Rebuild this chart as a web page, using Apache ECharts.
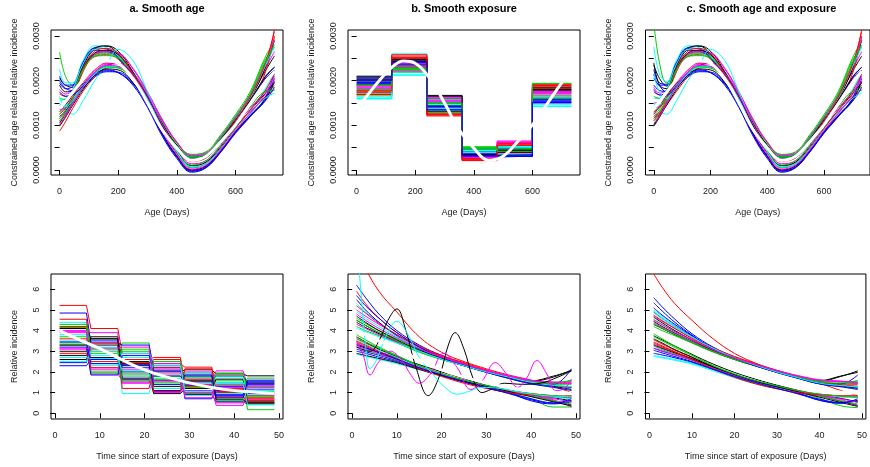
<!DOCTYPE html>
<html>
<head>
<meta charset="utf-8">
<script src="https://cdn.jsdelivr.net/npm/echarts@6/dist/echarts.min.js"></script>
<style>
  html, body { margin: 0; padding: 0; background: #ffffff; }
  #chart { width: 870px; height: 467px; }
</style>
</head>
<body>
<div id="chart"></div>
<script>
// ---------------------------------------------------------------------------
// Data. Age-effect values are stored per 10,000 (multiplied by AGE_UNIT).
// ---------------------------------------------------------------------------
const AGE_UNIT = 1e-4;

// Tick positions
const ageTicks = [0, 200, 400, 600];
const ageIncTicks = [0, 0.0005, 0.001, 0.0015, 0.002, 0.0025, 0.003];
const ageIncLabels = [0, 0.001, 0.002, 0.003];
const dayTicks = [0, 10, 20, 30, 40, 50];
const relIncTicks = [0, 1, 2, 3, 4, 5, 6];

const panelTitles = ['a. Smooth age', 'b. Smooth exposure', 'c. Smooth age and exposure'];

// Age grid (days) for the smooth age curves and the true age effect
const ageX = [0, 20, 45, 80, 120, 160, 200, 250, 300, 350, 400, 450, 500, 550, 600, 650, 700, 733];
const ageTrue = [13.8, 15.3, 17.4, 20.2, 23.0, 24.4, 23.9, 20.5, 15.0, 9.0, 4.9, 2.2, 3.1, 6.4, 10.1, 14.8, 19.5, 22.0];

// a. Smooth age: fitted age curves (per 10,000)
const smoothAgeCurves = [
  [20.5, 19.0, 18.5, 23.3, 27.4, 27.7, 26.0, 21.8, 16.5, 10.5, 5.6, 2.8, 3.3, 7.0, 11.5, 16.2, 22.0, 25.5],
  [11.5, 13.0, 16.0, 22.5, 25.9, 26.5, 25.5, 21.5, 15.8, 9.6, 4.8, 2.4, 3.0, 6.6, 11.0, 16.2, 22.8, 31.5],
  [26.4, 21.0, 19.0, 23.0, 25.9, 26.2, 25.3, 22.0, 17.0, 11.0, 6.0, 3.2, 3.6, 7.3, 11.8, 17.0, 24.5, 27.5],
  [19.5, 18.2, 18.8, 23.8, 26.8, 26.6, 25.0, 20.6, 15.2, 9.4, 4.9, 2.5, 3.0, 6.4, 10.6, 15.3, 20.8, 23.0],
  [22.5, 19.5, 19.5, 24.5, 27.8, 27.4, 25.5, 20.9, 15.5, 9.8, 5.3, 2.8, 3.5, 7.0, 11.3, 16.4, 23.2, 28.0],
  [18.0, 17.0, 18.0, 23.0, 26.1, 26.6, 26.2, 22.8, 17.5, 11.4, 6.3, 3.4, 3.9, 7.6, 12.0, 16.8, 22.5, 26.5],
  [13.0, 14.5, 17.0, 23.3, 27.1, 27.8, 26.6, 22.0, 16.2, 10.0, 5.2, 2.6, 3.2, 6.8, 11.1, 15.8, 22.6, 29.0],
  [10.0, 12.0, 15.5, 22.0, 25.4, 25.8, 24.8, 20.5, 14.8, 8.8, 4.2, 2.0, 2.7, 6.2, 10.4, 15.3, 21.5, 30.0],
  [12.5, 14.0, 16.5, 22.3, 25.4, 25.6, 25.0, 21.8, 16.8, 10.9, 6.1, 3.5, 4.1, 7.9, 12.4, 17.5, 25.0, 29.0],
  [21.0, 19.0, 19.0, 24.1, 27.3, 27.1, 25.2, 20.7, 15.1, 9.2, 4.6, 2.2, 2.8, 6.2, 10.4, 15.0, 20.3, 22.3],
  [15.5, 16.0, 18.0, 23.7, 27.0, 27.2, 25.8, 21.6, 16.0, 10.1, 5.3, 2.7, 3.3, 6.9, 11.2, 16.0, 23.0, 27.5],
  [14.5, 15.0, 17.2, 22.5, 25.8, 26.4, 26.2, 22.6, 17.3, 11.2, 6.2, 3.2, 3.7, 7.3, 11.7, 16.6, 23.8, 29.5],
  [19.0, 17.5, 17.8, 22.7, 26.2, 26.8, 25.8, 21.8, 16.4, 10.4, 5.5, 2.9, 3.4, 6.9, 11.2, 15.6, 20.6, 23.0],
  [17.0, 16.5, 17.5, 22.9, 26.6, 27.2, 26.1, 21.6, 15.6, 9.5, 4.8, 2.4, 3.0, 6.6, 11.0, 16.3, 23.5, 31.0],
  [16.0, 15.8, 17.4, 22.5, 25.6, 26.0, 25.2, 21.2, 15.9, 10.0, 5.4, 2.9, 3.6, 7.4, 11.9, 16.9, 24.0, 28.0],
  [12.0, 13.2, 15.5, 18.3, 20.8, 22.0, 21.9, 19.5, 14.5, 8.2, 3.2, -0.2, 0.6, 4.1, 8.4, 12.2, 15.8, 20.5],
  [16.5, 13.5, 12.5, 15.5, 20.0, 23.5, 27.0, 24.5, 17.5, 10.0, 4.5, 0.8, 1.7, 5.1, 9.5, 13.3, 17.5, 21.0],
  [13.5, 14.0, 15.8, 19.2, 22.3, 23.9, 23.9, 21.4, 16.2, 9.7, 4.4, 1.0, 1.7, 5.0, 9.3, 13.0, 16.2, 18.0],
  [10.5, 12.5, 15.0, 18.5, 21.6, 23.4, 23.8, 21.5, 16.5, 10.0, 4.6, 1.0, 1.8, 5.2, 9.5, 13.3, 17.0, 19.5],
  [8.7, 10.8, 13.8, 17.6, 20.8, 22.8, 23.0, 20.3, 14.6, 8.0, 3.0, 0.0, 1.0, 4.5, 8.8, 12.6, 16.3, 19.0],
  [11.5, 13.5, 16.0, 19.0, 21.8, 23.0, 22.8, 20.3, 15.3, 9.0, 3.9, 0.6, 1.5, 4.9, 9.3, 13.3, 17.5, 18.5],
  [20.0, 18.3, 17.8, 19.3, 21.6, 22.4, 21.8, 19.0, 14.0, 7.6, 2.6, -0.5, 0.5, 4.0, 8.2, 11.9, 16.0, 21.8],
  [14.0, 14.5, 16.0, 19.0, 21.8, 23.3, 23.2, 20.8, 15.8, 9.4, 4.1, 0.7, 1.5, 5.0, 9.4, 13.2, 18.0, 22.0],
  [11.0, 12.5, 15.0, 18.8, 22.0, 23.7, 23.8, 21.6, 16.7, 10.3, 4.9, 1.4, 2.1, 5.5, 9.9, 13.8, 17.4, 20.0],
  [9.8, 11.8, 14.5, 18.0, 21.2, 22.6, 22.4, 19.6, 14.4, 8.1, 3.1, 0.0, 0.9, 4.3, 8.6, 12.1, 15.5, 19.8],
  [12.5, 13.8, 16.2, 19.6, 22.5, 24.0, 23.8, 21.0, 15.6, 9.1, 3.8, 0.5, 1.4, 4.9, 9.3, 13.4, 17.6, 21.5],
  [10.8, 12.8, 15.3, 18.8, 21.8, 23.2, 22.9, 20.4, 15.6, 9.4, 4.3, 1.1, 2.1, 5.7, 10.2, 14.1, 17.5, 17.8],
  [17.5, 16.5, 16.8, 18.8, 21.1, 22.2, 21.8, 19.3, 14.4, 8.0, 2.9, -0.3, 0.7, 4.2, 8.4, 12.0, 15.3, 18.5],
  [14.8, 14.2, 15.5, 18.5, 21.5, 23.0, 23.1, 20.6, 15.7, 9.3, 4.1, 0.6, 1.4, 4.7, 8.9, 12.6, 16.0, 17.2],
  [10.2, 12.0, 14.8, 18.6, 21.9, 23.4, 23.2, 20.4, 15.2, 8.7, 3.5, 0.2, 1.1, 4.5, 8.8, 12.7, 16.8, 21.0]
];

// c. Smooth age and exposure: fitted age curves (per 10,000)
const smoothBothAgeCurves = [
  [23.5, 20.5, 18.8, 23.3, 27.4, 27.7, 26.0, 21.8, 16.5, 10.5, 5.6, 2.8, 3.3, 7.0, 11.5, 16.2, 22.0, 25.5],
  [11.6, 13.0, 16.0, 22.5, 25.9, 26.5, 25.5, 21.5, 15.8, 9.6, 4.8, 2.4, 3.0, 6.6, 11.0, 16.2, 22.8, 31.5],
  [33.0, 24.0, 19.5, 23.0, 25.9, 26.2, 25.3, 22.0, 17.0, 11.0, 6.0, 3.2, 3.6, 7.3, 11.8, 17.0, 24.5, 27.5],
  [21.5, 19.0, 19.0, 23.8, 26.8, 26.6, 25.0, 20.6, 15.2, 9.4, 4.9, 2.5, 3.0, 6.4, 10.6, 15.3, 20.8, 23.0],
  [27.6, 21.5, 19.8, 24.5, 27.8, 27.4, 25.5, 20.9, 15.5, 9.8, 5.3, 2.8, 3.5, 7.0, 11.3, 16.4, 23.2, 28.0],
  [18.5, 17.2, 18.0, 23.0, 26.1, 26.6, 26.2, 22.8, 17.5, 11.4, 6.3, 3.4, 3.9, 7.6, 12.0, 16.8, 22.5, 26.5],
  [12.5, 14.2, 17.0, 23.3, 27.1, 27.8, 26.6, 22.0, 16.2, 10.0, 5.2, 2.6, 3.2, 6.8, 11.1, 15.8, 22.6, 29.0],
  [11.0, 12.5, 15.5, 22.0, 25.4, 25.8, 24.8, 20.5, 14.8, 8.8, 4.2, 2.0, 2.7, 6.2, 10.4, 15.3, 21.5, 30.0],
  [13.0, 14.3, 16.5, 22.3, 25.4, 25.6, 25.0, 21.8, 16.8, 10.9, 6.1, 3.5, 4.1, 7.9, 12.4, 17.5, 25.0, 29.0],
  [22.5, 19.5, 19.2, 24.1, 27.3, 27.1, 25.2, 20.7, 15.1, 9.2, 4.6, 2.2, 2.8, 6.2, 10.4, 15.0, 20.3, 22.3],
  [16.0, 16.2, 18.0, 23.7, 27.0, 27.2, 25.8, 21.6, 16.0, 10.1, 5.3, 2.7, 3.3, 6.9, 11.2, 16.0, 23.0, 27.5],
  [15.0, 15.2, 17.2, 22.5, 25.8, 26.4, 26.2, 22.6, 17.3, 11.2, 6.2, 3.2, 3.7, 7.3, 11.7, 16.6, 23.8, 29.5],
  [24.0, 19.0, 18.2, 22.7, 26.2, 26.8, 25.8, 21.8, 16.4, 10.4, 5.5, 2.9, 3.4, 6.9, 11.2, 15.6, 20.6, 23.0],
  [17.5, 16.8, 17.5, 22.9, 26.6, 27.2, 26.1, 21.6, 15.6, 9.5, 4.8, 2.4, 3.0, 6.6, 11.0, 16.3, 23.5, 31.0],
  [16.5, 16.0, 17.4, 22.5, 25.6, 26.0, 25.2, 21.2, 15.9, 10.0, 5.4, 2.9, 3.6, 7.4, 11.9, 16.9, 24.0, 28.0],
  [20.5, 18.8, 17.5, 18.6, 20.8, 22.0, 21.9, 19.5, 14.5, 8.2, 3.2, -0.2, 0.6, 4.1, 8.4, 12.2, 15.8, 20.5],
  [15.0, 13.2, 12.5, 15.5, 20.0, 23.5, 27.0, 24.5, 17.5, 10.0, 4.5, 0.8, 1.7, 5.1, 9.5, 13.3, 17.5, 21.0],
  [14.0, 14.2, 15.8, 19.2, 22.3, 23.9, 23.9, 21.4, 16.2, 9.7, 4.4, 1.0, 1.7, 5.0, 9.3, 13.0, 16.2, 18.0],
  [10.1, 12.2, 15.0, 18.5, 21.6, 23.4, 23.8, 21.5, 16.5, 10.0, 4.6, 1.0, 1.8, 5.2, 9.5, 13.3, 17.0, 19.5],
  [11.6, 12.5, 14.5, 17.6, 20.8, 22.8, 23.0, 20.3, 14.6, 8.0, 3.0, 0.0, 1.0, 4.5, 8.8, 12.6, 16.3, 19.0],
  [12.0, 13.6, 16.0, 19.0, 21.8, 23.0, 22.8, 20.3, 15.3, 9.0, 3.9, 0.6, 1.5, 4.9, 9.3, 13.3, 17.5, 18.5],
  [19.0, 17.8, 17.6, 19.3, 21.6, 22.4, 21.8, 19.0, 14.0, 7.6, 2.6, -0.5, 0.5, 4.0, 8.2, 11.9, 16.0, 21.8],
  [14.5, 14.6, 16.0, 19.0, 21.8, 23.3, 23.2, 20.8, 15.8, 9.4, 4.1, 0.7, 1.5, 5.0, 9.4, 13.2, 18.0, 22.0],
  [12.0, 13.0, 15.0, 18.8, 22.0, 23.7, 23.8, 21.6, 16.7, 10.3, 4.9, 1.4, 2.1, 5.5, 9.9, 13.8, 17.4, 20.0],
  [9.8, 11.8, 14.5, 18.0, 21.2, 22.6, 22.4, 19.6, 14.4, 8.1, 3.1, 0.0, 0.9, 4.3, 8.6, 12.1, 15.5, 19.8],
  [13.0, 14.0, 16.2, 19.6, 22.5, 24.0, 23.8, 21.0, 15.6, 9.1, 3.8, 0.5, 1.4, 4.9, 9.3, 13.4, 17.6, 21.5],
  [11.0, 12.9, 15.3, 18.8, 21.8, 23.2, 22.9, 20.4, 15.6, 9.4, 4.3, 1.1, 2.1, 5.7, 10.2, 14.1, 17.5, 17.8],
  [18.0, 16.8, 16.8, 18.8, 21.1, 22.2, 21.8, 19.3, 14.4, 8.0, 2.9, -0.3, 0.7, 4.2, 8.4, 12.0, 15.3, 18.5],
  [21.5, 17.5, 16.0, 18.5, 21.5, 23.0, 23.1, 20.6, 15.7, 9.3, 4.1, 0.6, 1.4, 4.7, 8.9, 12.6, 16.0, 17.2],
  [10.5, 12.0, 14.8, 18.6, 21.9, 23.4, 23.2, 20.4, 15.2, 8.7, 3.5, 0.2, 1.1, 4.5, 8.8, 12.7, 16.8, 21.0]
];

// b. Smooth exposure: piecewise-constant age effect (per 10,000), six age bands
const ageBandEdges = [0, 120, 240, 360, 480, 600, 733];
const stepAgeLevels = [
  [20.8, 24.9, 16.5, 3.4, 4.6, 17.9],
  [17.0, 23.3, 12.3, 2.3, 5.9, 18.6],
  [18.9, 21.8, 14.8, 5.1, 4.0, 19.3],
  [19.6, 24.3, 13.6, 2.9, 3.1, 15.0],
  [16.0, 26.0, 15.7, 4.2, 5.0, 14.3],
  [18.2, 22.6, 16.0, 3.0, 6.3, 16.8],
  [19.2, 23.7, 13.0, 4.6, 4.2, 16.1],
  [17.5, 25.2, 14.1, 2.5, 5.6, 18.2],
  [16.6, 22.3, 12.8, 4.9, 3.5, 17.4],
  [20.4, 24.6, 15.2, 3.7, 4.9, 15.6],
  [17.2, 21.3, 13.4, 4.4, 5.3, 16.4],
  [18.6, 23.9, 15.4, 2.7, 3.8, 17.1],
  [19.9, 22.9, 14.4, 4.0, 4.4, 17.7],
  [16.9, 25.5, 12.1, 2.2, 6.1, 18.9],
  [17.8, 23.0, 15.9, 5.2, 4.8, 16.6],
  [19.4, 24.1, 13.9, 3.2, 3.4, 15.3],
  [16.3, 21.9, 14.6, 3.9, 5.4, 14.6],
  [18.4, 22.1, 16.2, 3.6, 6.5, 17.6],
  [20.2, 24.4, 13.2, 4.7, 3.9, 18.4],
  [17.3, 25.8, 12.6, 2.6, 5.8, 19.1],
  [18.0, 22.5, 15.0, 5.0, 4.5, 16.0],
  [20.6, 23.5, 14.2, 3.3, 3.3, 15.8],
  [15.9, 21.2, 13.8, 4.5, 5.1, 14.2],
  [18.8, 23.2, 15.6, 2.9, 6.2, 17.3],
  [21.0, 24.7, 16.7, 3.5, 4.3, 18.0],
  [17.7, 25.0, 12.4, 2.1, 5.5, 18.8],
  [19.0, 22.7, 14.9, 4.8, 4.1, 19.4],
  [20.0, 24.0, 13.5, 3.1, 3.0, 15.1]
];

// Exposure-time grid (days) and the true exposure effect
const expTrueX = [1, 5, 10, 15, 20, 25, 30, 35, 40, 45, 49];
const expTrue = [4.0, 3.6, 3.13, 2.58, 2.1, 1.75, 1.47, 1.25, 1.1, 1.02, 0.97];

// d. Smooth age: weekly step exposure effect
const weekBlocks = [[1, 7], [8, 14], [15, 21], [22, 28], [29, 35], [36, 42], [43, 49]];
const stepExposureLevels = [
  [4.1, 3.6, 2.5, 2.0, 2.1, 1.9, 1.81],
  [5.22, 4.1, 2.9, 2.4, 2.23, 1.2, 0.75],
  [3.3, 2.4, 3.4, 1.4, 1.2, 1.5, 0.17],
  [4.85, 3.4, 3.3, 2.2, 1.0, 0.9, 1.55],
  [4.4, 2.8, 0.95, 1.8, 1.7, 0.6, 1.1],
  [3.9, 1.9, 1.6, 1.0, 1.5, 2.05, 1.35],
  [3.0, 3.7, 2.3, 1.6, 0.9, 0.55, 0.45],
  [4.55, 3.0, 1.9, 2.6, 1.4, 1.0, 0.85],
  [3.7, 2.0, 3.1, 1.2, 1.9, 0.7, 1.3],
  [2.3, 2.6, 1.7, 2.3, 0.7, 1.3, 0.95],
  [3.5, 3.2, 2.7, 1.7, 1.95, 1.45, 0.6],
  [3.1, 2.2, 1.5, 2.1, 1.1, 0.38, 1.0],
  [2.6, 3.3, 2.0, 1.3, 1.6, 1.8, 1.45],
  [4.2, 2.5, 2.6, 2.7, 1.3, 0.8, 0.5],
  [3.4, 1.95, 1.8, 1.5, 1.75, 1.6, 0.8],
  [2.45, 3.5, 2.2, 1.1, 1.35, 1.1, 1.6],
  [3.8, 2.3, 2.9, 2.5, 0.85, 0.95, 1.2],
  [4.0, 3.9, 1.45, 1.9, 2.0, 0.5, 0.65],
  [2.8, 2.7, 2.4, 0.95, 1.2, 1.65, 0.55],
  [3.6, 3.4, 1.2, 2.2, 1.65, 1.15, 0.7],
  [4.3, 2.9, 3.0, 1.65, 1.0, 1.35, 1.7],
  [3.2, 1.85, 2.8, 2.05, 1.8, 0.75, 1.4],
  [2.5, 3.0, 1.9, 1.2, 1.45, 1.75, 0.9],
  [3.95, 2.1, 2.1, 2.4, 0.75, 1.25, 1.25],
  [3.3, 3.6, 1.65, 1.8, 1.55, 0.65, 0.5],
  [2.9, 2.2, 2.45, 1.05, 2.15, 1.05, 0.62],
  [4.15, 3.1, 1.55, 2.5, 1.25, 1.95, 1.05],
  [3.45, 2.4, 2.35, 1.4, 1.85, 0.85, 1.5],
  [2.7, 2.65, 2.05, 2.3, 1.05, 1.5, 0.4],
  [3.15, 3.15, 3.2, 1.55, 0.95, 1.4, 1.15]
];

// e. / f. smooth exposure curves on a common day grid
const expX = [1, 3, 6, 10, 15, 20, 25, 30, 35, 40, 45, 49];
const smoothExposureCurves = [
  [4.4, 4.15, 3.85, 3.45, 3.0, 2.62, 2.3, 2.0, 1.75, 1.55, 1.75, 2.1],
  [7.9, 7.0, 5.9, 4.9, 3.7, 2.95, 2.5, 2.15, 1.85, 1.6, 1.3, 1.0],
  [4.6, 4.35, 4.0, 3.6, 3.1, 2.7, 2.35, 2.05, 1.75, 1.5, 1.4, 1.4],
  [6.2, 5.6, 4.8, 4.0, 3.3, 2.8, 2.4, 2.05, 1.75, 1.45, 1.3, 1.25],
  [5.3, 4.9, 4.4, 3.8, 3.2, 2.75, 2.35, 2.0, 1.7, 1.45, 1.3, 1.2],
  [5.0, 4.7, 4.3, 3.8, 3.2, 2.75, 2.4, 2.05, 1.75, 1.5, 1.45, 1.6],
  [4.5, 4.25, 3.9, 3.5, 3.05, 2.65, 2.32, 2.02, 1.77, 1.57, 1.8, 2.05],
  [5.9, 5.3, 4.6, 3.9, 3.25, 2.8, 2.45, 2.1, 1.8, 1.55, 1.45, 1.45],
  [4.2, 4.0, 3.75, 3.4, 2.95, 2.6, 2.3, 2.02, 1.78, 1.55, 1.5, 1.55],
  [5.5, 5.0, 4.4, 3.75, 3.1, 2.65, 2.3, 1.98, 1.7, 1.45, 1.4, 2.15],
  [4.9, 4.6, 4.2, 3.7, 3.15, 2.7, 2.35, 2.0, 1.72, 1.48, 1.35, 1.3],
  [4.3, 4.1, 3.8, 3.45, 3.0, 2.65, 2.35, 2.08, 1.82, 1.6, 1.5, 1.5],
  [4.7, 4.4, 4.0, 3.55, 3.05, 2.65, 2.3, 2.0, 1.72, 1.48, 1.3, 1.15],
  [5.2, 4.85, 4.35, 3.8, 3.2, 2.75, 2.38, 2.05, 1.76, 1.5, 1.35, 1.25],
  [4.5, 4.25, 3.9, 3.5, 3.02, 2.62, 2.3, 2.0, 1.75, 1.52, 1.45, 1.6],
  [5.7, 5.2, 4.6, 3.9, 3.2, 2.7, 2.32, 1.98, 1.68, 1.42, 1.25, 1.1],
  [4.1, 3.95, 3.7, 3.4, 3.0, 2.62, 2.3, 2.0, 1.75, 1.5, 1.35, 1.3],
  [4.8, 4.5, 4.1, 3.65, 3.12, 2.72, 2.38, 2.06, 1.8, 1.58, 1.5, 1.45],
  [3.3, 3.15, 2.95, 2.7, 2.35, 2.0, 1.68, 1.35, 1.1, 0.85, 0.6, 0.4],
  [3.6, 3.4, 3.1, 2.75, 2.3, 1.92, 1.6, 1.32, 1.1, 0.95, 0.85, 0.8],
  [3.8, 3.55, 3.2, 2.8, 2.3, 1.9, 1.55, 1.28, 1.0, 0.7, 0.3, 0.3],
  [3.1, 2.98, 2.8, 2.55, 2.2, 1.88, 1.6, 1.3, 1.0, 0.6, 0.45, 0.55],
  [2.85, 2.75, 2.6, 2.4, 2.1, 1.82, 1.55, 1.3, 1.08, 0.9, 0.8, 0.85],
  [3.4, 3.2, 2.95, 2.6, 2.2, 1.85, 1.55, 1.28, 1.05, 0.85, 0.65, 0.3],
  [3.7, 3.45, 3.1, 2.72, 2.25, 1.88, 1.58, 1.32, 1.1, 0.92, 0.75, 0.6],
  [3.5, 3.3, 3.0, 2.65, 2.2, 1.82, 1.5, 1.22, 1.0, 0.85, 0.78, 0.75],
  [3.2, 3.05, 2.85, 2.58, 2.22, 1.9, 1.6, 1.33, 1.08, 0.85, 0.6, 0.45],
  [3.0, 2.9, 2.72, 2.5, 2.15, 1.82, 1.52, 1.25, 0.98, 0.7, 0.5, 0.6],
  [3.55, 3.35, 3.05, 2.7, 2.25, 1.88, 1.56, 1.3, 1.06, 0.86, 0.78, 0.7],
  [3.25, 3.1, 2.88, 2.6, 2.22, 1.86, 1.55, 1.3, 1.08, 0.88, 0.7, 0.55],
  [2.9, 2.8, 2.65, 2.45, 2.12, 1.82, 1.55, 1.3, 1.05, 0.8, 0.55, 0.35],
  [3.45, 3.25, 2.98, 2.62, 2.15, 1.78, 1.45, 1.2, 1.0, 0.88, 0.82, 0.85],
  [3.65, 3.45, 3.15, 2.78, 2.3, 1.92, 1.6, 1.35, 1.12, 0.95, 0.85, 0.8],
  [3.35, 3.18, 2.93, 2.62, 2.2, 1.85, 1.52, 1.24, 0.95, 0.65, 0.48, 0.7]
];

// e. three oscillating fits (black, cyan, magenta)
const wiggleBlackX = [1, 4, 6, 8, 10, 12, 14.3, 17, 19.5, 21.5, 23, 25, 27, 29, 31, 34, 38, 42, 46, 49];
const wiggleBlackY = [3.2, 3.0, 3.5, 4.5, 5.05, 4.0, 2.2, 0.85, 1.8, 3.3, 3.9, 3.1, 1.7, 1.0, 1.15, 1.45, 1.4, 1.45, 1.75, 2.05];
const wiggleCyanX = [1, 2, 3, 4, 5.5, 7.5, 10, 12.5, 15, 18, 21, 23.5, 26, 29, 33, 38, 43, 49];
const wiggleCyanY = [8.5, 5.8, 3.3, 2.15, 2.6, 3.7, 4.45, 3.8, 2.7, 1.9, 1.2, 0.92, 1.05, 1.25, 1.2, 1.0, 0.85, 0.8];
const wiggleMagentaX = [1, 2.5, 4, 6, 8.5, 11, 13, 15, 17.5, 20.5, 23.5, 26.5, 29, 32, 34.5, 37, 39, 41.3, 43.5, 45.5, 47.5, 49];
const wiggleMagentaY = [3.5, 2.8, 1.85, 2.5, 3.0, 2.6, 1.9, 1.45, 1.9, 2.9, 2.2, 1.15, 1.55, 2.45, 1.9, 1.25, 1.7, 2.55, 1.9, 1.1, 1.2, 1.65];

// f. Smooth age and exposure: exposure curves
const smoothBothExposureCurves = [
  [4.3, 4.1, 3.8, 3.42, 2.98, 2.6, 2.28, 1.98, 1.72, 1.55, 1.78, 2.05],
  [6.75, 6.1, 5.3, 4.5, 3.6, 2.9, 2.42, 2.05, 1.72, 1.45, 1.1, 0.85],
  [4.55, 4.3, 3.95, 3.55, 3.05, 2.66, 2.33, 2.03, 1.76, 1.5, 1.42, 1.45],
  [5.6, 5.15, 4.55, 3.85, 3.2, 2.72, 2.35, 2.0, 1.7, 1.42, 1.3, 1.25],
  [5.0, 4.7, 4.25, 3.72, 3.15, 2.7, 2.32, 1.98, 1.7, 1.45, 1.32, 1.25],
  [4.7, 4.45, 4.1, 3.65, 3.12, 2.7, 2.36, 2.05, 1.78, 1.6, 1.55, 1.45],
  [4.45, 4.2, 3.88, 3.48, 3.02, 2.63, 2.3, 2.0, 1.75, 1.58, 1.8, 1.98],
  [4.9, 4.6, 4.2, 3.72, 3.18, 2.75, 2.4, 2.08, 1.78, 1.52, 1.42, 1.4],
  [4.2, 4.0, 3.75, 3.4, 2.96, 2.6, 2.3, 2.02, 1.78, 1.56, 1.52, 1.55],
  [5.35, 4.95, 4.4, 3.78, 3.12, 2.66, 2.3, 1.98, 1.7, 1.45, 1.42, 1.85],
  [4.85, 4.55, 4.15, 3.68, 3.13, 2.68, 2.33, 2.0, 1.72, 1.48, 1.36, 1.32],
  [4.4, 4.15, 3.85, 3.47, 3.0, 2.64, 2.34, 2.07, 1.82, 1.62, 1.52, 1.5],
  [4.65, 4.38, 4.0, 3.55, 3.04, 2.64, 2.3, 2.0, 1.72, 1.48, 1.32, 1.2],
  [4.75, 4.48, 4.1, 3.62, 3.1, 2.7, 2.36, 2.05, 1.76, 1.5, 1.38, 1.3],
  [4.35, 4.12, 3.82, 3.44, 3.0, 2.62, 2.3, 2.0, 1.75, 1.52, 1.46, 1.58],
  [5.1, 4.75, 4.3, 3.75, 3.12, 2.68, 2.3, 1.97, 1.68, 1.42, 1.28, 1.15],
  [4.95, 4.62, 4.2, 3.7, 3.14, 2.69, 2.32, 1.99, 1.71, 1.46, 1.34, 1.28],
  [4.5, 4.28, 3.95, 3.55, 3.07, 2.68, 2.36, 2.06, 1.8, 1.6, 1.55, 1.48],
  [3.75, 3.55, 3.25, 2.85, 2.38, 1.98, 1.65, 1.36, 1.1, 0.85, 0.58, 0.38],
  [3.55, 3.35, 3.05, 2.7, 2.25, 1.86, 1.52, 1.26, 1.05, 0.92, 0.84, 0.8],
  [3.85, 3.6, 3.25, 2.82, 2.3, 1.9, 1.56, 1.28, 1.02, 0.72, 0.36, 0.27],
  [3.15, 3.0, 2.82, 2.57, 2.2, 1.86, 1.55, 1.26, 0.98, 0.62, 0.5, 0.6],
  [2.75, 2.68, 2.56, 2.38, 2.05, 1.72, 1.42, 1.2, 1.02, 0.88, 0.8, 0.82],
  [3.35, 3.18, 2.95, 2.62, 2.2, 1.84, 1.52, 1.25, 1.03, 0.84, 0.66, 0.35],
  [3.6, 3.4, 3.08, 2.72, 2.25, 1.87, 1.56, 1.3, 1.08, 0.9, 0.72, 0.55],
  [3.45, 3.26, 2.98, 2.63, 2.18, 1.78, 1.45, 1.2, 1.0, 0.86, 0.8, 0.78],
  [3.25, 3.08, 2.87, 2.58, 2.2, 1.86, 1.56, 1.3, 1.06, 0.84, 0.6, 0.45],
  [3.05, 2.92, 2.74, 2.5, 2.14, 1.8, 1.5, 1.23, 0.96, 0.68, 0.52, 0.62],
  [2.8, 2.72, 2.6, 2.42, 2.1, 1.78, 1.48, 1.23, 1.03, 0.88, 0.8, 0.78],
  [3.15, 3.02, 2.83, 2.58, 2.2, 1.84, 1.53, 1.28, 1.06, 0.87, 0.7, 0.52],
  [3.3, 3.14, 2.92, 2.64, 2.24, 1.87, 1.55, 1.28, 1.03, 0.78, 0.52, 0.33],
  [3.4, 3.22, 2.96, 2.6, 2.14, 1.74, 1.42, 1.18, 1.0, 0.9, 0.85, 0.85],
  [3.7, 3.5, 3.18, 2.8, 2.3, 1.9, 1.58, 1.33, 1.1, 0.93, 0.83, 0.78],
  [2.9, 2.82, 2.68, 2.47, 2.12, 1.78, 1.48, 1.2, 0.93, 0.64, 0.48, 0.7]
];

// ---------------------------------------------------------------------------
// Layout and styling
// ---------------------------------------------------------------------------
const PALETTE = ['#000000', '#FF0000', '#00CD00', '#0000FF', '#00FFFF', '#FF00FF'];
const FONT = "'Liberation Sans', Arial, Helvetica, sans-serif";
const TEXT = '#222222';

const boxLefts = [51, 348, 645.5];
const boxWidth = 232;
const rowTops = [30, 274];
const boxHeight = 145;

const ageRange = [-29.3, 762.3];
const ageIncRange = [-0.000112, 0.003134];
const dayRange = [-0.92, 50.92];
const relIncRange = [-0.28, 6.74];

const grids = [];
const xAxes = [];
const yAxes = [];

function addPanel(row, col, isAge) {
  const idx = grids.length;
  grids.push({
    left: boxLefts[col], top: rowTops[row], width: boxWidth, height: boxHeight,
    show: true, borderColor: '#000000', borderWidth: 1, backgroundColor: 'transparent'
  });
  const xTicks = isAge ? ageTicks : dayTicks;
  xAxes.push({
    type: 'value', gridIndex: idx,
    min: isAge ? ageRange[0] : dayRange[0], max: isAge ? ageRange[1] : dayRange[1],
    axisLine: { show: false }, splitLine: { show: false },
    axisTick: { show: true, inside: false, length: 5, customValues: xTicks, lineStyle: { color: '#000', width: 1 } },
    axisLabel: { show: true, customValues: xTicks, margin: 12, fontSize: 9, color: TEXT, fontFamily: FONT },
    name: isAge ? 'Age (Days)' : 'Time since start of exposure (Days)',
    nameLocation: 'middle', nameGap: 33,
    nameTextStyle: { fontSize: 9, color: TEXT, fontFamily: FONT }
  });
  yAxes.push({
    type: 'value', gridIndex: idx,
    min: isAge ? ageIncRange[0] : relIncRange[0], max: isAge ? ageIncRange[1] : relIncRange[1],
    axisLine: { show: false }, splitLine: { show: false },
    axisTick: { show: true, inside: false, length: 5, customValues: isAge ? ageIncTicks : relIncTicks, lineStyle: { color: '#000', width: 1 } },
    axisLabel: {
      show: true, customValues: isAge ? ageIncLabels : relIncTicks, rotate: 90, margin: 10,
      fontSize: 9, color: TEXT, fontFamily: FONT,
      formatter: isAge ? (v => Number(v).toFixed(4)) : (v => String(v))
    },
    name: isAge ? 'Constrained age related relative incidence' : 'Relative incidence',
    nameLocation: 'middle', nameGap: 32, nameRotate: 90,
    nameTextStyle: { fontSize: 9, color: TEXT, fontFamily: FONT }
  });
  return idx;
}

const series = [];

function lineSeries(idx, data, color, width, smooth) {
  return {
    type: 'line', xAxisIndex: idx, yAxisIndex: idx, data: data,
    showSymbol: false, symbol: 'none', smooth: smooth,
    lineStyle: { color: color, width: width }, silent: true, clip: true, animation: false
  };
}

function addCurves(idx, xs, rows, scale) {
  rows.forEach((row, i) => {
    series.push(lineSeries(idx, row.map((v, j) => [xs[j], v * scale]), PALETTE[i % PALETTE.length], 1, 0.4));
  });
}

function addTruth(idx, xs, ys, scale) {
  series.push(lineSeries(idx, ys.map((v, j) => [xs[j], v * scale]), '#ffffff', 3, 0.4));
}

function addAgeSteps(idx, rows) {
  rows.forEach((levels, i) => {
    const pts = [];
    levels.forEach((lv, k) => {
      pts.push([ageBandEdges[k], lv * AGE_UNIT]);
      pts.push([ageBandEdges[k + 1], lv * AGE_UNIT]);
    });
    series.push(lineSeries(idx, pts, PALETTE[i % PALETTE.length], 1, false));
  });
}

function addWeekSteps(idx, rows) {
  rows.forEach((levels, i) => {
    const pts = [];
    levels.forEach((lv, k) => {
      pts.push([weekBlocks[k][0], lv]);
      pts.push([weekBlocks[k][1], lv]);
    });
    series.push(lineSeries(idx, pts, PALETTE[i % PALETTE.length], 1, false));
  });
}

// Top row: age effects
const pA = addPanel(0, 0, true);
addCurves(pA, ageX, smoothAgeCurves, AGE_UNIT);
addTruth(pA, ageX, ageTrue, AGE_UNIT);

const pB = addPanel(0, 1, true);
addAgeSteps(pB, stepAgeLevels);
addTruth(pB, ageX, ageTrue, AGE_UNIT);

const pC = addPanel(0, 2, true);
addCurves(pC, ageX, smoothBothAgeCurves, AGE_UNIT);
addTruth(pC, ageX, ageTrue, AGE_UNIT);

// Bottom row: exposure effects
const pD = addPanel(1, 0, false);
addWeekSteps(pD, stepExposureLevels);
addTruth(pD, expTrueX, expTrue, 1);

const pE = addPanel(1, 1, false);
addCurves(pE, expX, smoothExposureCurves, 1);
series.push(lineSeries(pE, wiggleBlackX.map((x, j) => [x, wiggleBlackY[j]]), PALETTE[0], 1, 0.4));
series.push(lineSeries(pE, wiggleCyanX.map((x, j) => [x, wiggleCyanY[j]]), PALETTE[4], 1, 0.4));
series.push(lineSeries(pE, wiggleMagentaX.map((x, j) => [x, wiggleMagentaY[j]]), PALETTE[5], 1, 0.4));
addTruth(pE, expTrueX, expTrue, 1);

const pF = addPanel(1, 2, false);
addCurves(pF, expX, smoothBothExposureCurves, 1);
addTruth(pF, expTrueX, expTrue, 1);

const titles = panelTitles.map((t, i) => ({
  text: t, left: boxLefts[i] + boxWidth / 2, top: 3, textAlign: 'center', padding: 0,
  textStyle: { fontSize: 11, fontWeight: 'bold', color: '#000', fontFamily: FONT }
}));

const chart = echarts.init(document.getElementById('chart'), null, { renderer: 'canvas' });
chart.setOption({
  animation: false,
  backgroundColor: '#ffffff',
  title: titles,
  grid: grids,
  xAxis: xAxes,
  yAxis: yAxes,
  series: series
});
</script>
</body>
</html>
